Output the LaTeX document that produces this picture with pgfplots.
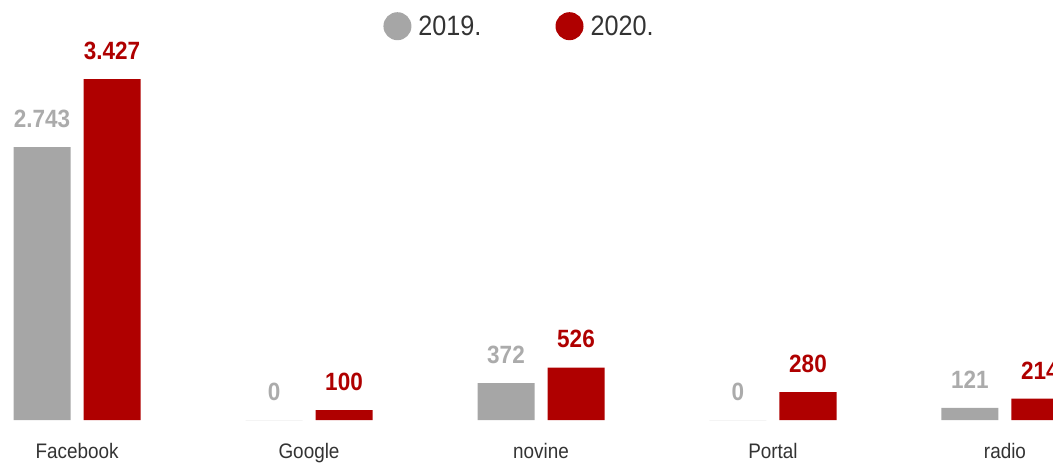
\documentclass[border=0pt]{standalone}
\usepackage{fontspec}
\setmainfont{Liberation Sans}[FakeStretch=0.9]
\usepackage{pgfplots}
\pgfplotsset{compat=1.18}
\definecolor{grayc}{HTML}{A6A6A6}
\definecolor{redc}{HTML}{AF0000}
\definecolor{graytxt}{HTML}{ABABAB}
\definecolor{cattxt}{HTML}{333333}
\begin{document}
\begin{tikzpicture}
\begin{axis}[
    scale only axis,
    width=1053pt, height=464pt,
    xmin=-0.332, xmax=4.207,
    ymin=-442, ymax=4221,
    ybar=13pt, bar width=57pt,
    axis line style={draw=none},
    tick style={draw=none},
    ytick=\empty,
    xtick={0,1,2,3,4},
    xticklabels={Facebook,Google,novine,Portal,radio},
    xticklabel style={anchor=base, yshift=10pt, font=\fontsize{21}{24}\selectfont, text=cattxt},
    nodes near coords,
    point meta=explicit symbolic,
    every node near coord/.append style={font=\fontsize{25}{28}\selectfont\bfseries, yshift=16pt},
    legend columns=2,
    legend style={at={(0.5,1)}, anchor=north, xshift=-7pt, yshift=-10pt, draw=none, fill=none,
        font=\fontsize{28}{30}\selectfont, text=cattxt,
        /tikz/every odd column/.append style={column sep=5pt},
        /tikz/every even column/.append style={column sep=72pt}},
]
\addplot[fill=grayc, draw=none, every node near coord/.append style={text=graytxt},
    legend image code/.code={\fill[grayc] (14pt,0pt) circle (14pt);}]
    coordinates {(0,2743)[2.743] (1,0)[0] (2,372)[372] (3,0)[0] (4,121)[121]};
\addplot[fill=redc, draw=none, every node near coord/.append style={text=redc},
    legend image code/.code={\fill[redc] (14pt,0pt) circle (14pt);}]
    coordinates {(0,3427)[3.427] (1,100)[100] (2,526)[526] (3,280)[280] (4,214)[214]};
\legend{2019.,2020.}
\end{axis}
\pgfresetboundingbox
\useasboundingbox (current axis.south west) rectangle (current axis.north east);
\end{tikzpicture}
\end{document}
